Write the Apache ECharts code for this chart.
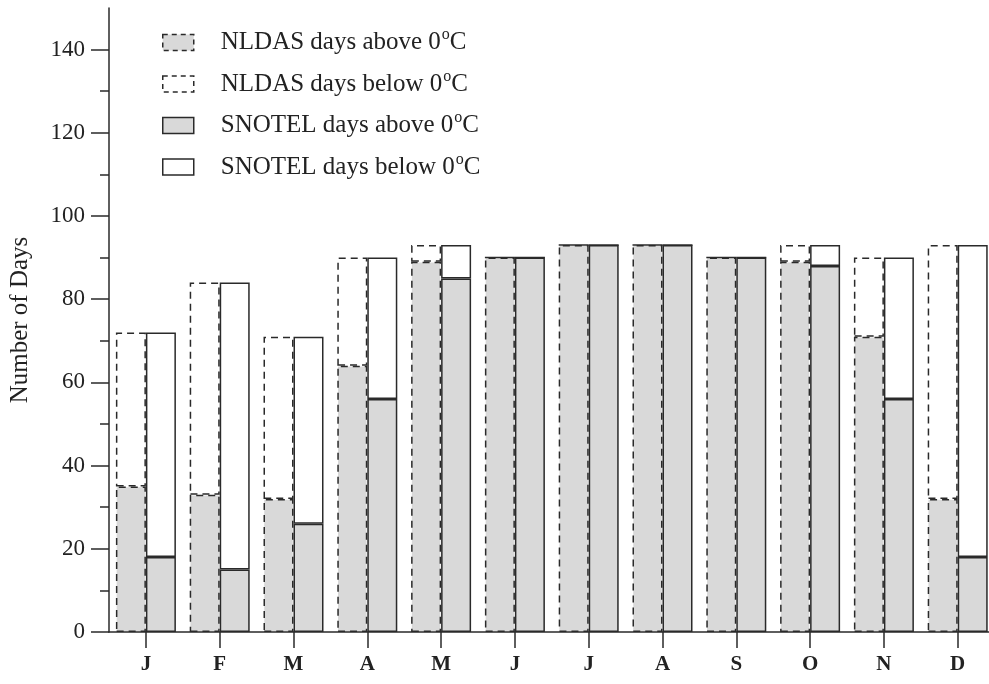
<!DOCTYPE html>
<html>
<head>
<meta charset="utf-8">
<script src="https://cdn.jsdelivr.net/npm/echarts@6/dist/echarts.min.js"></script>
<style>
html,body{margin:0;padding:0;background:#fff;overflow:hidden;}
#chart{width:1000px;height:684px;}
</style>
</head>
<body>
<div id="chart"></div>
<script>
const months = ['J','F','M','A','M','J','J','A','S','O','N','D'];
const nldasTotal  = [72, 84, 71, 90, 93, 90, 93, 93, 90, 93, 90, 93];
const nldasAbove  = [35, 33, 32, 64, 89, 90, 93, 93, 90, 89, 71, 32];
const snotelTotal = [72, 84, 71, 90, 93, 90, 93, 93, 90, 93, 90, 93];
const snotelAbove = [18, 15, 26, 56, 85, 90, 93, 93, 90, 88, 56, 18];
const majorTicks = [0, 20, 40, 60, 80, 100, 120, 140];
const minorTicks = [10, 30, 50, 70, 90, 110, 130];

const nldasBelow = nldasTotal.map((t, i) => t - nldasAbove[i]);
const snotelBelow = snotelTotal.map((t, i) => t - snotelAbove[i]);

const FONT = "'Liberation Serif', 'Times New Roman', serif";
const INK = '#2a2a2a';
const GRAY = '#d9d9d9';
const DASH = [7, 5];

const chart = echarts.init(document.getElementById('chart'));

function bar(name, data, stack, fill, dashed) {
  return {
    name: name,
    type: 'bar',
    stack: stack,
    data: data,
    barWidth: 30,
    barGap: '0%',
    animation: false,
    itemStyle: {
      color: fill,
      borderColor: INK,
      borderWidth: 1.5,
      borderType: dashed ? DASH : 'solid'
    },
    emphasis: { disabled: true }
  };
}

const legendText = {
  fontFamily: FONT,
  fontSize: 25,
  color: '#222',
  rich: {
    g: { width: 22, lineHeight: 26 },
    a: { fontFamily: FONT, fontSize: 25, color: '#222', lineHeight: 26 },
    s: { fontFamily: FONT, fontSize: 16, color: '#222', padding: [0, 0, 15, 1] }
  }
};

chart.setOption({
  backgroundColor: '#fff',
  animation: false,
  grid: { left: 105.6, width: 889, top: 8, height: 624, containLabel: false },
  legend: {
    orient: 'vertical',
    left: 157,
    top: 22,
    itemWidth: 31,
    itemHeight: 16,
    itemGap: 13.5,
    icon: 'rect',
    selectedMode: false,
    textStyle: legendText,
    formatter: function (name) {
      const parts = name.split('0\u00B0C');
      return '{g|}{a|' + parts[0] + '0}{s|o}{a|C}';
    },
    data: [
      { name: 'NLDAS days above 0\u00B0C', itemStyle: { color: GRAY, borderColor: INK, borderWidth: 1.5, borderType: [5, 4] } },
      { name: 'NLDAS days below 0\u00B0C', itemStyle: { color: '#fff', borderColor: INK, borderWidth: 1.5, borderType: [5, 4] } },
      { name: 'SNOTEL days above 0\u00B0C', itemStyle: { color: GRAY, borderColor: INK, borderWidth: 1.5, borderType: 'solid' } },
      { name: 'SNOTEL days below 0\u00B0C', itemStyle: { color: '#fff', borderColor: INK, borderWidth: 1.5, borderType: 'solid' } }
    ]
  },
  xAxis: {
    type: 'category',
    data: months,
    z: 5,
    axisLine: { show: true, lineStyle: { color: INK, width: 1.5 } },
    axisTick: { show: true, alignWithLabel: true, length: 16, lineStyle: { color: INK, width: 1.5 } },
    axisLabel: { fontFamily: FONT, fontSize: 21, fontWeight: 'bold', color: '#222', margin: 22, interval: 0 },
    splitLine: { show: false }
  },
  yAxis: [
    {
      type: 'value',
      min: 0,
      max: 150,
      position: 'left',
      z: 5,
      name: 'Number of Days',
      nameLocation: 'middle',
      nameGap: 76,
      nameRotate: 90,
      nameTextStyle: { fontFamily: FONT, fontSize: 25, color: '#222' },
      axisLine: { show: true, lineStyle: { color: INK, width: 1.5 } },
      axisTick: { show: true, length: 18, customValues: majorTicks, lineStyle: { color: INK, width: 1.5 } },
      axisLabel: { customValues: majorTicks, fontFamily: FONT, fontSize: 23, color: '#222', margin: 24 },
      splitLine: { show: false }
    },
    {
      type: 'value',
      min: 0,
      max: 150,
      position: 'left',
      offset: 0,
      z: 5,
      axisLine: { show: false },
      axisTick: { show: true, length: 9, customValues: minorTicks, lineStyle: { color: INK, width: 1.5 } },
      axisLabel: { show: false },
      splitLine: { show: false }
    }
  ],
  series: [
    bar('NLDAS days above 0\u00B0C', nldasAbove, 'nldas', GRAY, true),
    bar('NLDAS days below 0\u00B0C', nldasBelow, 'nldas', '#fff', true),
    bar('SNOTEL days above 0\u00B0C', snotelAbove, 'snotel', GRAY, false),
    bar('SNOTEL days below 0\u00B0C', snotelBelow, 'snotel', '#fff', false)
  ]
});
</script>
</body>
</html>
